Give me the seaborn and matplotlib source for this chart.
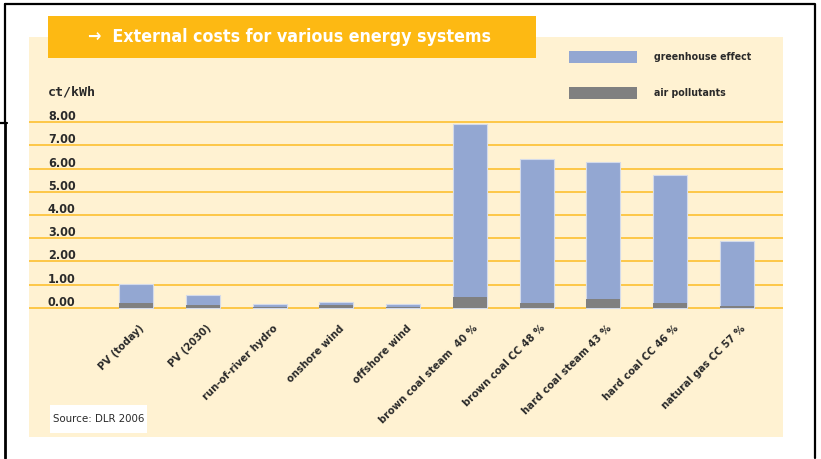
import matplotlib
matplotlib.use("Agg")
import matplotlib.pyplot as plt
from matplotlib import font_manager as fm
from matplotlib.patches import Rectangle
from matplotlib.lines import Line2D
from matplotlib.transforms import ScaledTranslation
import seaborn as sns
import pandas as pd

# External costs in ct/kWh (DLR 2006)
systems = ["PV (today)", "PV (2030)", "run-of-river hydro", "onshore wind",
           "offshore wind", "brown coal steam  40 %", "brown coal CC 48 %",
           "hard coal steam 43 %", "hard coal CC 46 %", "natural gas CC 57 %"]
greenhouse = [0.81, 0.43, 0.13, 0.14, 0.13, 7.45, 6.23, 5.91, 5.54, 2.80]
air_pollutants = [0.20, 0.12, 0.03, 0.10, 0.04, 0.46, 0.20, 0.36, 0.20, 0.07]
y_ticks = [0, 1, 2, 3, 4, 5, 6, 7, 8]
y_tick_labels = ["0.00", "1.00", "2.00", "3.00", "4.00", "5.00", "6.00", "7.00", "8.00"]

df = pd.DataFrame({"system": systems,
                   "greenhouse": greenhouse,
                   "air": air_pollutants})
df["total"] = df["greenhouse"] + df["air"]

BLUE = "#93A7D2"
GREY = "#808080"
CREAM = "#FFF2D2"
ORANGE = "#FDB913"
GRID = "#FDC748"
TEXT = "#2a2a2a"


def narrow_font(bold):
    """Pick a condensed sans face if one is installed, else a compact one."""
    files = [f.fname for f in fm.fontManager.ttflist]
    wanted = ["LiberationSansNarrow-Bold", "DejaVuSansCondensed-Bold",
              "RobotoCondensed-Bold", "Roboto-Bold"] if bold else \
             ["LiberationSansNarrow-Regular", "DejaVuSansCondensed.",
              "RobotoCondensed-Regular", "Roboto-Medium", "Roboto-Regular"]
    for key in wanted:
        for f in files:
            if key in f.split("/")[-1]:
                return fm.FontProperties(fname=f)
    return fm.FontProperties(family="DejaVu Sans",
                             weight="bold" if bold else "normal")


FP_BOLD = narrow_font(True)
FP_REG = narrow_font(False)


def fp(base, size):
    p = base.copy()
    p.set_size(size)
    return p


sns.set_theme(style="white")
plt.rcParams["font.family"] = ["DejaVu Sans"]

W, H = 821, 459
fig = plt.figure(figsize=(W / 100, H / 100), dpi=100)
fig.patch.set_facecolor("white")


def px_rect(x0, y0, x1, y1, **kw):
    """Rectangle given in pixel coordinates measured from the top-left."""
    return Rectangle((x0 / W, 1 - y1 / H), (x1 - x0) / W, (y1 - y0) / H,
                     transform=fig.transFigure, **kw)


def px_line(xs, ys, **kw):
    return Line2D([x / W for x in xs], [1 - y / H for y in ys],
                  transform=fig.transFigure, **kw)


# panel background and title bar
fig.patches.append(px_rect(29, 37, 783, 437, facecolor=CREAM, edgecolor="none", zorder=-10))
fig.patches.append(px_rect(48, 16, 536, 58, facecolor=ORANGE, edgecolor="none", zorder=-5))
fig.text(88 / W, 1 - 37 / H, "\u2192  External costs for various energy systems",
         color="white", fontproperties=fp(FP_BOLD, 12.8), ha="left", va="center",
         zorder=2)

# outer frame
frame_kw = dict(color="black", lw=1.6, zorder=5)
fig.lines.append(px_line([5, 815, 815], [4, 4, 458], **frame_kw))
fig.lines.append(px_line([5, 5], [4, 123], **frame_kw))
fig.lines.append(px_line([0, 7], [123, 123], **frame_kw))
fig.lines.append(px_line([5, 5], [123, 458], color="black", lw=2.0, zorder=5))

# plotting area
ax_top, ax_bot = 112, 312
ax = fig.add_axes([29 / W, 1 - ax_bot / H, 754 / W, (ax_bot - ax_top) / H])
ax.set_facecolor("none")
ax.set_zorder(1)

sns.barplot(data=df, x="system", y="total", color=BLUE, width=0.51,
            edgecolor="#d4dbea", linewidth=0.8, saturation=1, ax=ax, zorder=3)
sns.barplot(data=df, x="system", y="air", color=GREY, width=0.51,
            edgecolor="none", linewidth=0, saturation=1, ax=ax, zorder=4)

unit = (307.7 - 122.3) / 8
ax.set_ylim(-(ax_bot - 307.7) / unit, 8 + (122.3 - ax_top) / unit)
spacing = (737 - 136) / 9
ax.set_xlim(-(136 - 29) / spacing, 9 + (783 - 737) / spacing)

ax.set_yticks(y_ticks)
ax.set_yticklabels(y_tick_labels)
ax.yaxis.grid(True, color=GRID, lw=1.4, zorder=1)
ax.xaxis.grid(False)
ax.set_axisbelow(True)
for s in ax.spines.values():
    s.set_visible(False)
ax.set_xlabel("")
ax.set_ylabel("")

ax.tick_params(axis="y", length=0, pad=-19 * 0.72, labelcolor=TEXT)
for lab in ax.get_yticklabels():
    lab.set_fontproperties(fp(FP_BOLD, 9))
    lab.set_horizontalalignment("left")
    lab.set_verticalalignment("baseline")
    lab.set_transform(lab.get_transform() + ScaledTranslation(0, 2 / 100, fig.dpi_scale_trans))

ax.tick_params(axis="x", length=0, pad=8, labelcolor=TEXT)
ax.set_xticks(range(len(systems)))
ax.set_xticklabels(systems, rotation=45, ha="right", rotation_mode="anchor")
for lab in ax.get_xticklabels():
    lab.set_fontproperties(fp(FP_BOLD, 8))
    lab.set_transform(lab.get_transform() + ScaledTranslation(3 / 100, 0, fig.dpi_scale_trans))

# unit label
fig.text(48 / W, 1 - 92 / H, "ct/kWh", fontsize=9.5, fontweight="bold", color=TEXT,
         family=["DejaVu Sans Mono"], ha="left", va="center")

# legend
fig.patches.append(px_rect(569, 51, 637, 63, facecolor=BLUE, edgecolor="none", zorder=2))
fig.patches.append(px_rect(569, 87, 637, 99, facecolor=GREY, edgecolor="none", zorder=2))
fig.text(654 / W, 1 - 57 / H, "greenhouse effect", fontproperties=fp(FP_BOLD, 7.6),
         color=TEXT, ha="left", va="center")
fig.text(654 / W, 1 - 93 / H, "air pollutants", fontproperties=fp(FP_BOLD, 7.6),
         color=TEXT, ha="left", va="center")

# source note
fig.patches.append(px_rect(50, 405, 147, 433, facecolor="white", edgecolor="none", zorder=2))
fig.text(53 / W, 1 - 419 / H, "Source: DLR 2006", fontproperties=fp(FP_REG, 8.2),
         color=TEXT, ha="left", va="center", zorder=3)

fig.savefig("out.png", dpi=100, facecolor="white")
